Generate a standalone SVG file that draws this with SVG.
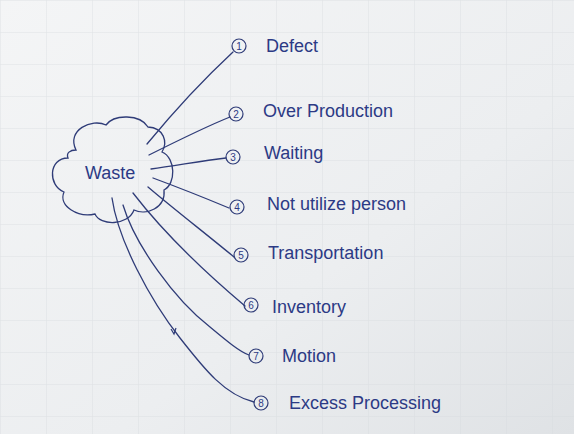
<svg xmlns="http://www.w3.org/2000/svg" width="574" height="434" viewBox="0 0 574 434">
<defs>
<linearGradient id="bg" x1="0" y1="0" x2="1" y2="1">
<stop offset="0" stop-color="#f4f5f6"/>
<stop offset="0.6" stop-color="#eceef0"/>
<stop offset="1" stop-color="#dfe2e5"/>
</linearGradient>
<pattern id="grid" width="46" height="32" patternUnits="userSpaceOnUse">
<path d="M0 0H46M0 0V32" fill="none" stroke="#d6dadd" stroke-width="1"/>
</pattern>
</defs>
<style>
.ink{fill:none;stroke:#2f3c78;stroke-width:1.3;stroke-linecap:round}
.lbl{font-family:"Liberation Sans",Arial,sans-serif;font-size:18px;fill:#2c3a85}
.num{font-family:"Liberation Sans",Arial,sans-serif;font-size:10px;fill:#2c3a85;text-anchor:middle}
.badge{fill:none;stroke:#2f3c78;stroke-width:1.2}
</style>
<rect width="574" height="434" fill="url(#bg)"/>
<rect width="574" height="434" fill="url(#grid)" opacity="0.7"/>

<g id="waste">
<path class="ink" d="M76 150 C66 130 92 118 106 125 C114 114 140 114 148 127 C164 128 168 142 162 152 C176 158 176 184 164 190 C166 208 146 216 134 210 C128 226 100 226 95 214 C78 218 58 206 64 192 C48 186 48 158 68 158 C66 153 70 150 76 150 Z"/>
<text class="lbl" x="85" y="179" font-size="21">Waste</text>
</g>

<g id="connectors">
<path class="ink" d="M147 144 C175 110 205 78 233 52"/>
<path class="ink" d="M149 155 C175 142 205 127 230 117"/>
<path class="ink" d="M151 169 C175 166 200 161 226 158"/>
<path class="ink" d="M153 178 C180 188 205 198 229 208"/>
<path class="ink" d="M148 187 C175 210 205 233 234 257"/>
<path class="ink" d="M133 193 C160 228 200 268 245 306"/>
<path class="ink" d="M123 205 C135 245 175 300 210 327 C228 342 240 352 249 355"/>
<path class="ink" d="M112 198 C118 240 150 300 180 338 C205 370 225 395 254 402"/>
<path d="M176 328 L174 334 L171 329" fill="none" stroke="#2f3c78" stroke-width="1.2"/>
</g>

<g id="n1"><circle class="badge" cx="239" cy="46" r="7"/><text class="num" x="239" y="50">1</text><text class="lbl" x="266" y="52">Defect</text></g>
<g id="n2"><circle class="badge" cx="236" cy="114" r="7"/><text class="num" x="236" y="118">2</text><text class="lbl" x="263" y="117">Over Production</text></g>
<g id="n3"><circle class="badge" cx="233" cy="157" r="7"/><text class="num" x="233" y="161">3</text><text class="lbl" x="264" y="159">Waiting</text></g>
<g id="n4"><circle class="badge" cx="237" cy="207" r="7"/><text class="num" x="237" y="211">4</text><text class="lbl" x="267" y="210">Not utilize person</text></g>
<g id="n5"><circle class="badge" cx="241" cy="255" r="7"/><text class="num" x="241" y="259">5</text><text class="lbl" x="268" y="259">Transportation</text></g>
<g id="n6"><circle class="badge" cx="251" cy="305" r="7"/><text class="num" x="251" y="309">6</text><text class="lbl" x="272" y="313" font-size="20">Inventory</text></g>
<g id="n7"><circle class="badge" cx="256" cy="356" r="7"/><text class="num" x="256" y="360">7</text><text class="lbl" x="282" y="362">Motion</text></g>
<g id="n8"><circle class="badge" cx="261" cy="403" r="7"/><text class="num" x="261" y="407">8</text><text class="lbl" x="289" y="409">Excess Processing</text></g>
</svg>
